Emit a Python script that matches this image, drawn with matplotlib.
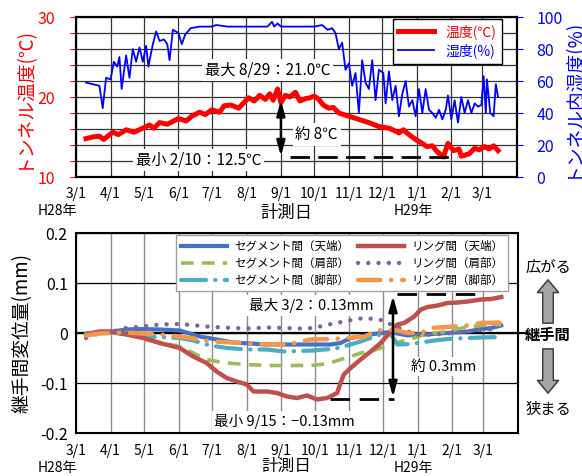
import numpy as np
import matplotlib
matplotlib.use("Agg")
import matplotlib.pyplot as plt

plt.rcParams["font.family"] = ["Noto Sans CJK JP", "DejaVu Sans"]

# ==========================================
# DATA
# ==========================================

temp_dates = [
    "2016-03-10", "2016-03-16", "2016-03-22", "2016-03-26", "2016-04-03", "2016-04-08",
    "2016-04-15", "2016-04-22", "2016-04-30", "2016-05-06", "2016-05-10", "2016-05-15",
    "2016-05-22", "2016-06-01", "2016-06-08", "2016-06-13", "2016-06-20", "2016-06-25",
    "2016-07-01", "2016-07-08", "2016-07-12", "2016-07-18", "2016-07-25", "2016-08-03",
    "2016-08-08", "2016-08-13", "2016-08-18", "2016-08-22", "2016-08-25", "2016-08-29",
    "2016-09-01", "2016-09-05", "2016-09-09", "2016-09-14", "2016-09-18", "2016-09-23",
    "2016-09-27", "2016-10-01", "2016-10-05", "2016-10-09", "2016-10-14", "2016-10-18",
    "2016-10-23", "2016-11-01", "2016-11-10", "2016-11-19", "2016-11-28", "2016-12-07",
    "2016-12-12", "2016-12-16", "2016-12-20", "2016-12-25", "2017-01-01", "2017-01-06",
    "2017-01-10", "2017-01-15", "2017-01-19", "2017-01-25", "2017-01-29", "2017-02-03",
    "2017-02-08", "2017-02-10", "2017-02-17", "2017-02-22", "2017-02-26", "2017-03-03",
    "2017-03-07", "2017-03-11", "2017-03-15",
]
temp_values = [
    14.8, 15.0, 15.1, 14.7, 15.6, 15.3,
    15.9, 15.6, 16.1, 16.5, 16.1, 16.8,
    16.6, 17.3, 17.0, 17.6, 18.1, 17.8,
    18.4, 18.1, 18.9, 19.0, 18.6, 19.9,
    19.5, 20.2, 19.7, 20.4, 19.6, 21.0,
    19.3, 20.2, 20.0, 20.6, 19.5, 19.8,
    19.9, 20.1, 19.7, 19.0, 18.6, 18.7,
    18.0, 17.6, 17.2, 16.8, 16.3, 16.1,
    15.8, 15.5, 15.9, 15.3, 14.6, 14.2,
    13.8, 13.9, 13.2, 12.5, 14.2, 13.3,
    13.5, 12.6, 12.9, 13.6, 13.4, 13.8,
    13.5, 13.9, 13.3,
]

hum_dates = [
    "2016-03-10", "2016-03-22", "2016-03-25", "2016-03-28", "2016-04-01", "2016-04-04",
    "2016-04-07", "2016-04-09", "2016-04-11", "2016-04-15", "2016-04-18", "2016-04-21",
    "2016-04-24", "2016-04-27", "2016-04-30", "2016-05-03", "2016-05-05", "2016-05-09",
    "2016-05-12", "2016-05-15", "2016-05-19", "2016-05-22", "2016-05-24", "2016-05-27",
    "2016-06-01", "2016-06-04", "2016-06-07", "2016-06-12", "2016-06-20", "2016-07-01",
    "2016-07-05", "2016-07-15", "2016-08-01", "2016-08-20", "2016-08-24", "2016-08-26",
    "2016-08-29", "2016-09-01", "2016-09-15", "2016-10-01", "2016-10-08", "2016-10-13",
    "2016-10-17", "2016-10-20", "2016-10-23", "2016-10-26", "2016-10-29", "2016-11-01",
    "2016-11-04", "2016-11-07", "2016-11-10", "2016-11-13", "2016-11-16", "2016-11-19",
    "2016-11-22", "2016-11-25", "2016-11-28", "2016-12-02", "2016-12-04", "2016-12-07",
    "2016-12-10", "2016-12-13", "2016-12-16", "2016-12-19", "2016-12-22", "2016-12-25",
    "2016-12-28", "2016-12-31", "2017-01-03", "2017-01-06", "2017-01-09", "2017-01-12",
    "2017-01-15", "2017-01-18", "2017-01-21", "2017-01-24", "2017-01-27", "2017-01-29",
    "2017-02-01", "2017-02-04", "2017-02-07", "2017-02-10", "2017-02-13", "2017-02-16",
    "2017-02-19", "2017-02-22", "2017-02-25", "2017-02-28", "2017-03-02", "2017-03-04",
    "2017-03-05", "2017-03-08", "2017-03-11", "2017-03-13", "2017-03-15",
]
hum_values = [
    59, 57, 43, 62, 61, 72,
    69, 75, 55, 76, 62, 80,
    72, 81, 72, 82, 69, 83,
    91, 85, 86, 83, 73, 92,
    90, 83, 89, 93, 94, 94,
    95, 94, 94, 94, 97, 94,
    96, 94, 94, 94, 95, 92,
    93, 90, 80, 84, 67, 71,
    57, 65, 40, 73, 59, 55,
    73, 48, 67, 65, 46, 66,
    48, 57, 38, 52, 60, 44,
    48, 38, 55, 40, 55, 42,
    40, 37, 42, 36, 42, 51,
    36, 48, 34, 50, 40, 48,
    40, 46, 44, 45, 63, 40,
    61, 40, 38, 58, 50,
]

seg_top_dates = ["2016-03-10", "2016-03-22", "2016-04-03", "2016-04-15", "2016-04-30", "2016-05-15",
                 "2016-06-02", "2016-06-08", "2016-06-20", "2016-07-05", "2016-07-20", "2016-08-04",
                 "2016-08-19", "2016-09-03", "2016-10-15", "2016-10-24", "2016-11-02", "2016-11-11",
                 "2016-11-20", "2016-11-29", "2016-12-08", "2016-12-14", "2016-12-23", "2017-01-01",
                 "2017-01-10", "2017-01-19", "2017-01-28", "2017-02-06", "2017-02-15", "2017-02-27",
                 "2017-03-08", "2017-03-17"]
seg_top_values = [-0.003, 0.0, 0.003, 0.007, 0.008, 0.007,
                  0.005, 0.001, -0.007, -0.013, -0.019, -0.021,
                  -0.023, -0.023, -0.023, -0.020, -0.010, -0.007,
                  -0.003, 0.0, 0.002, -0.001, -0.005, -0.003,
                  -0.003, -0.001, 0.0, 0.002, 0.003, 0.008,
                  0.010, 0.015]

seg_shoulder_dates = ["2016-03-10", "2016-03-22", "2016-04-03", "2016-04-15", "2016-04-30", "2016-05-15",
                      "2016-06-02", "2016-06-14", "2016-06-26", "2016-07-08", "2016-07-20", "2016-08-01",
                      "2016-08-19", "2016-09-03", "2016-09-27", "2016-10-06", "2016-10-15", "2016-10-24",
                      "2016-11-02", "2016-11-11", "2016-11-20", "2016-11-29", "2016-12-08", "2016-12-17",
                      "2016-12-29", "2017-01-07", "2017-01-16", "2017-01-28", "2017-02-06", "2017-02-15",
                      "2017-02-27", "2017-03-17"]
seg_shoulder_values = [-0.003, 0.0, 0.0, -0.003, -0.010, -0.019,
                       -0.027, -0.040, -0.053, -0.058, -0.061, -0.063,
                       -0.065, -0.065, -0.065, -0.063, -0.060, -0.053,
                       -0.047, -0.040, -0.037, -0.030, -0.023, -0.017,
                       -0.010, -0.003, 0.0, 0.003, 0.008, 0.012,
                       0.015, 0.017]

seg_foot_dates = ["2016-03-10", "2016-03-22", "2016-04-03", "2016-04-15", "2016-04-30", "2016-05-15",
                  "2016-06-02", "2016-06-14", "2016-06-29", "2016-07-14", "2016-08-01", "2016-08-19",
                  "2016-09-03", "2016-09-30", "2016-10-09", "2016-10-18", "2016-10-30", "2016-11-11",
                  "2016-11-20", "2016-11-29", "2016-12-08", "2016-12-14", "2016-12-26", "2017-01-04",
                  "2017-01-16", "2017-01-28", "2017-02-15", "2017-02-27", "2017-03-17"]
seg_foot_values = [0.0, 0.0, 0.0, -0.003, -0.007, -0.008,
                   -0.010, -0.015, -0.025, -0.030, -0.033, -0.033,
                   -0.037, -0.035, -0.033, -0.032, -0.025, -0.017,
                   -0.010, -0.003, -0.002, -0.023, -0.022, -0.019,
                   -0.015, -0.012, -0.010, -0.009, -0.008]

ring_top_dates = ["2016-03-10", "2016-03-22", "2016-04-01", "2016-04-15", "2016-04-30", "2016-05-15",
                  "2016-06-02", "2016-06-14", "2016-06-26", "2016-07-05", "2016-07-14", "2016-07-23",
                  "2016-08-01", "2016-08-07", "2016-08-19", "2016-08-28", "2016-09-06", "2016-09-15",
                  "2016-09-24", "2016-10-03", "2016-10-12", "2016-10-21", "2016-10-24", "2016-10-27",
                  "2016-11-02", "2016-11-11", "2016-11-20", "2016-11-29", "2016-12-08", "2016-12-14",
                  "2016-12-20", "2016-12-29", "2017-01-04", "2017-01-10", "2017-01-19", "2017-01-28",
                  "2017-02-06", "2017-02-15", "2017-02-27", "2017-03-08", "2017-03-17"]
ring_top_values = [-0.003, 0.003, 0.003, -0.003, -0.010, -0.020,
                   -0.030, -0.047, -0.060, -0.077, -0.090, -0.097,
                   -0.103, -0.117, -0.117, -0.120, -0.127, -0.130,
                   -0.125, -0.133, -0.130, -0.120, -0.100, -0.083,
                   -0.070, -0.053, -0.037, -0.020, 0.003, 0.017,
                   0.020, 0.033, 0.047, 0.052, 0.055, 0.060,
                   0.061, 0.063, 0.067, 0.068, 0.072]

ring_shoulder_dates = ["2016-03-10", "2016-03-22", "2016-04-03", "2016-04-15", "2016-04-30", "2016-05-15",
                       "2016-06-02", "2016-06-17", "2016-07-01", "2016-07-20", "2016-08-01", "2016-08-19",
                       "2016-09-03", "2016-09-18", "2016-09-30", "2016-10-09", "2016-10-18", "2016-10-27",
                       "2016-11-05", "2016-11-14", "2016-11-23", "2016-12-02", "2016-12-11", "2016-12-20",
                       "2016-12-29", "2017-01-07", "2017-01-16", "2017-01-28", "2017-02-09", "2017-02-21",
                       "2017-03-05", "2017-03-14"]
ring_shoulder_values = [-0.010, 0.0, 0.003, 0.010, 0.013, 0.017,
                        0.018, 0.015, 0.012, 0.010, 0.009, 0.011,
                        0.010, 0.009, 0.010, 0.015, 0.019, 0.023,
                        0.027, 0.030, 0.028, 0.025, 0.013, 0.007,
                        -0.003, -0.003, -0.003, -0.001, 0.001, 0.005,
                        0.007, 0.008]

ring_foot_dates = ["2016-03-10", "2016-03-22", "2016-04-12", "2016-04-30", "2016-05-15", "2016-06-02",
                   "2016-06-20", "2016-07-01", "2016-07-20", "2016-08-07", "2016-08-19", "2016-09-06",
                   "2016-09-27", "2016-10-18", "2016-11-08", "2016-11-14", "2016-11-26", "2016-12-05",
                   "2016-12-14", "2016-12-23", "2017-01-04", "2017-01-13", "2017-01-28", "2017-02-15",
                   "2017-02-27", "2017-03-17"]
ring_foot_values = [-0.005, -0.001, 0.001, -0.001, -0.003, -0.007,
                    -0.013, -0.017, -0.019, -0.021, -0.023, -0.023,
                    -0.013, -0.012, -0.008, -0.008, 0.005, 0.007,
                    0.005, 0.000, 0.000, 0.010, 0.012, 0.015,
                    0.020, 0.021]

month_ticks = np.arange("2016-03", "2017-04", dtype="datetime64[M]").astype("datetime64[D]")
month_labels = [f"{m}/1" for m in [3, 4, 5, 6, 7, 8, 9, 10, 11, 12, 1, 2, 3]]

x_start = np.datetime64("2016-03-01")
x_end = np.datetime64("2017-04-01")

def d(s):
    return np.array(s, dtype="datetime64[D]")

W, H = 582, 476

def fx(px):
    return px / W

def fy(py):
    return 1 - py / H

# ==========================================
# FIGURE
# ==========================================

fig = plt.figure(figsize=(W / 100, H / 100), dpi=100)

ax1 = fig.add_axes([fx(76), fy(177), 441 / W, 160 / H])
ax2 = ax1.twinx()
ax3 = fig.add_axes([fx(76), fy(433), 442 / W, 200 / H])

# ==========================================
# TOP: TEMPERATURE / HUMIDITY
# ==========================================

l_temp, = ax1.plot(d(temp_dates), temp_values, color="#ff0000", lw=3.6, label="温度(℃)", zorder=3)
l_hum, = ax2.plot(d(hum_dates), hum_values, color="#0000ff", lw=1.3, label="湿度(%)")

ax1.set_xlim(x_start, x_end)
ax1.set_ylim(10, 30)
ax2.set_ylim(0, 100)
ax1.set_yticks(np.arange(10, 31, 2))
ax1.set_yticklabels(["10", "", "", "", "", "20", "", "", "", "", "30"])
ax2.set_yticks(np.arange(0, 101, 20))
ax1.set_xticks(month_ticks)
ax1.set_xticklabels(month_labels)

ax1.grid(True, color="#333333", lw=0.9)
ax1.tick_params(axis="y", colors="#ff0000", labelsize=11.5, length=4, pad=11)
ax1.tick_params(axis="x", labelsize=10, length=0, pad=7)
ax2.tick_params(axis="y", colors="#0000ff", labelsize=11.5, length=4, pad=10)
for ax in (ax1, ax2):
    for sp in ax.spines.values():
        sp.set_color("black")
        sp.set_linewidth(1.5)

fig.text(fx(22), fy(97), "トンネル温度(℃)", color="#ff0000", fontsize=13.5,
         rotation=90, ha="center", va="center")
fig.text(fx(571), fy(97), "トンネル内湿度(%)", color="#0000ff", fontsize=13.5,
         rotation=90, ha="center", va="center")

leg1 = ax2.legend(handles=[l_temp, l_hum], loc="upper right", bbox_to_anchor=(0.966, 0.99),
                  fontsize=10, handlelength=2.6, frameon=True, fancybox=False,
                  edgecolor="black", framealpha=1, borderaxespad=0, labelspacing=0.3)
leg1.get_frame().set_linewidth(1.0)
for txt, c in zip(leg1.get_texts(), ["#ff0000", "#0000ff"]):
    txt.set_color(c)

ax1.plot(d(["2016-09-09", "2017-02-06"]), [12.5, 12.5], color="black", lw=2,
         ls=(0, (7, 3)), zorder=4)
ax1.annotate("", xy=(np.datetime64("2016-09-01"), 19.6), xytext=(np.datetime64("2016-09-01"), 12.6),
             arrowprops=dict(arrowstyle="<|-|>,head_width=0.25,head_length=0.9",
                             color="black", lw=1.8, shrinkA=0, shrinkB=0), zorder=5)
box = dict(fc="white", ec="none", pad=2)
ax1.text(np.datetime64("2016-08-20"), 23.4, "最大 8/29：21.0℃", fontsize=11,
         ha="center", va="center", bbox=box, zorder=6)
ax1.text(np.datetime64("2016-06-19"), 12.1, "最小 2/10：12.5℃", fontsize=11,
         ha="center", va="center", bbox=box, zorder=6)
ax1.text(np.datetime64("2016-09-14"), 15.3, "約 8℃", fontsize=11,
         ha="left", va="center", bbox=box, zorder=6)

fig.text(fx(57), fy(211), "H28年", fontsize=10, ha="center", va="center")
fig.text(fx(413), fy(211), "H29年", fontsize=10, ha="center", va="center")
fig.text(fx(286), fy(213), "計測日", fontsize=12.5, ha="center", va="center")

# ==========================================
# BOTTOM: JOINT DISPLACEMENT
# ==========================================

lines = []
lines.append(ax3.plot(d(seg_top_dates), seg_top_values, color="#4472C4", lw=3,
                      label="セグメント間（天端）")[0])
lines.append(ax3.plot(d(seg_shoulder_dates), seg_shoulder_values, color="#9BBB59", lw=2.6,
                      ls=(0, (3.5, 2.3)), label="セグメント間（肩部）")[0])
lines.append(ax3.plot(d(seg_foot_dates), seg_foot_values, color="#4BACC6", lw=3,
                      ls=(0, (6, 2.2, 0.1, 2.2)), dash_capstyle="round", label="セグメント間（脚部）")[0])
lines.append(ax3.plot(d(ring_top_dates), ring_top_values, color="#C0504D", lw=3.2,
                      label="リング間（天端）")[0])
lines.append(ax3.plot(d(ring_shoulder_dates), ring_shoulder_values, color="#8064A2", lw=3.2,
                      ls=(0, (0.01, 2.3)), dash_capstyle="round", label="リング間（肩部）")[0])
lines.append(ax3.plot(d(ring_foot_dates), ring_foot_values, color="#F79646", lw=3.2,
                      ls=(0, (5, 2.4, 0.1, 2.4)), dash_capstyle="round", label="リング間（脚部）")[0])

ax3.set_xlim(x_start, x_end)
ax3.set_ylim(-0.2, 0.2)
ax3.set_yticks([-0.2, -0.1, 0, 0.1, 0.2])
ax3.set_yticklabels(["-0.2", "-0.1", "0", "0.1", "0.2"])
ax3.set_xticks(month_ticks)
ax3.set_xticklabels(month_labels)
ax3.grid(True, axis="x", color="#8c8c8c", lw=1.0)
ax3.grid(True, axis="y", color="black", lw=0.9)
ax3.axhline(0, xmin=0, xmax=1.02, color="black", lw=1.6, clip_on=False, zorder=1.5)
ax3.tick_params(axis="y", labelsize=11.5, length=0, pad=6)
ax3.tick_params(axis="x", labelsize=10, length=0, pad=8)
for sp in ax3.spines.values():
    sp.set_color("black")
    sp.set_linewidth(1.5)
fig.text(fx(22), fy(333), "継手間変位量(mm)", fontsize=13.5,
         rotation=90, ha="center", va="center")

leg2 = ax3.legend(handles=lines, ncol=2, loc="upper right", bbox_to_anchor=(0.977, 0.99),
                  fontsize=8.3, handlelength=4.0, frameon=True, fancybox=False,
                  edgecolor="#a0a0a0", framealpha=1, borderaxespad=0, labelspacing=0.35,
                  columnspacing=0.8, handletextpad=0.6)

ax3.plot(d(["2016-10-15", "2016-12-11"]), [-0.132, -0.132], color="black", lw=2,
         ls=(0, (7, 3.5)), zorder=4)
ax3.plot(d(["2016-12-14", "2017-02-25"]), [0.078, 0.078], color="black", lw=2,
         ls=(0, (7, 3.5)), zorder=4)
ax3.annotate("", xy=(np.datetime64("2016-12-10"), 0.074), xytext=(np.datetime64("2016-12-10"), -0.128),
             arrowprops=dict(arrowstyle="<|-|>,head_width=0.25,head_length=0.9",
                             color="black", lw=1.8, shrinkA=0, shrinkB=0), zorder=5)
ax3.text(np.datetime64("2016-09-28"), 0.055, "最大 3/2：0.13mm", fontsize=10.5,
         ha="center", va="center", bbox=box, zorder=6)
ax3.text(np.datetime64("2016-09-04"), -0.177, "最小 9/15：−0.13mm", fontsize=10.5,
         ha="center", va="center", bbox=box, zorder=6)
ax3.text(np.datetime64("2016-12-26"), -0.067, "約 0.3mm", fontsize=10.5,
         ha="left", va="center", bbox=box, zorder=6)

fig.text(fx(57), fy(468), "H28年", fontsize=10, ha="center", va="center")
fig.text(fx(413), fy(468), "H29年", fontsize=10, ha="center", va="center")
fig.text(fx(286), fy(466), "計測日", fontsize=12, ha="center", va="center")

# right side legend-like arrows
fig.text(fx(548), fy(267), "広がる", fontsize=11, ha="center", va="center")
fig.text(fx(548), fy(335), "継手間", fontsize=11, fontweight="bold", ha="center", va="center")
fig.text(fx(548), fy(409), "狭まる", fontsize=11, ha="center", va="center")
block = dict(arrowstyle="simple,head_width=1.5,head_length=0.9,tail_width=0.75",
             fc="#a6a6a6", ec="#404040", lw=1, shrinkA=0, shrinkB=0, mutation_scale=10)
fig.add_artist(plt.annotate("", xy=(fx(548), fy(280)), xytext=(fx(548), fy(323)),
                            xycoords="figure fraction", textcoords="figure fraction",
                            arrowprops=block))
fig.add_artist(plt.annotate("", xy=(fx(548), fy(393)), xytext=(fx(548), fy(349)),
                            xycoords="figure fraction", textcoords="figure fraction",
                            arrowprops=block))

fig.savefig("out.png", dpi=100)
plt.close(fig)
